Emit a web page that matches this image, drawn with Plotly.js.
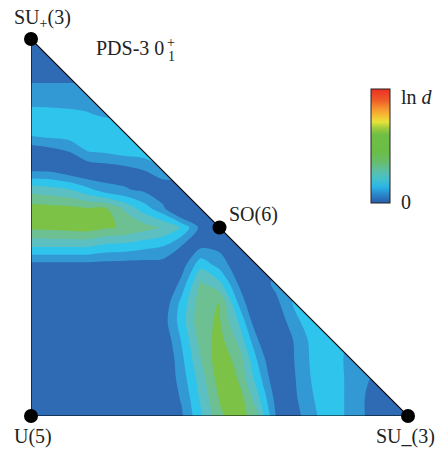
<!DOCTYPE html>
<html><head><meta charset="utf-8">
<script src="https://cdn.plot.ly/plotly-3.0.1.min.js"></script>
<style>html,body{margin:0;padding:0;background:#fff}#chart{width:443px;height:453px}</style>
</head><body><div id="chart"></div>
<script>
// grid coordinates (fraction along U(5)->SU_(3) and U(5)->SU+(3))
const gridX = [0,0.05,0.1,0.15,0.2,0.25,0.3,0.35,0.4,0.45,0.5,0.55,0.6,0.65,0.7,0.75,0.8,0.85,0.9,0.95,1];
const gridY = [0,0.05,0.1,0.15,0.2,0.25,0.3,0.35,0.4,0.45,0.5,0.55,0.6,0.65,0.7,0.75,0.8,0.85,0.9,0.95,1];
// ln d, in contour-level units (row = gridY, column = gridX)
const lnD = [
 [0,0,0,0,0,0,0,0,0.4,2.3,4.25,5.2,3.7,0.45,0.1,1.3,2.3,1.0,0.3,0.05,0],
 [0,0,0,0,0,0,0,-0.2,0.6,2.7,4.6,5.1,2.8,0.1,0.35,1.5,2.3,1.0,0.3,0.1,0.05],
 [0,0,0,0,0,0,0,-0.6,1.0,3.0,5.0,4.45,2.04,-0.4,0.45,1.7,2.3,1.0,0.5,0.3,0.2],
 [0,0,0,0,0,0,0,-0.7,1.27,3.45,5.2,4.1,1.45,-0.8,0.55,1.8,2.3,0.9,0.6,0.5,0.4],
 [0,0,0,0,0,0,0,-0.4,1.6,3.9,4.9,3.3,0.6,-0.5,0.6,1.9,2.2,1.2,1.0,1.0,1.0],
 [0,0,0,0,0,0,0,0,2.0,4.3,4.6,2.5,-0.36,-0.35,1.2,2.2,2.0,1.5,1.5,1.5,1.5],
 [0,0,0,0,0,0,0,-0.3,1.85,4.1,4.55,1.4,-1.0,0.2,1.7,1.8,1.8,1.8,1.8,1.8,1.8],
 [0,0,0,0,0,0,0,-1.0,0.9,3.7,2.8,0.45,-0.3,0.8,1.5,1.5,1.5,1.5,1.5,1.5,1.5],
 [0.1,0.1,0.1,0.1,0.05,0,0,0,0,2.2,1.15,-0.2,0,0.3,0.3,0.3,0.3,0.3,0.3,0.3,0.3],
 [2.6,2.6,2.6,2.6,2.2,2.1,1.8,1.5,0.45,0.3,0.2,0,0,0,0,0,0,0,0,0,0],
 [4.7,4.8,4.9,5.0,4.6,4.4,3.9,3.4,2.4,0.2,0,0,0,0,0,0,0,0,0,0,0],
 [5.0,4.9,4.8,4.6,4.55,3.3,2.0,0.8,-1.5,0,0,0,0,0,0,0,0,0,0,0,0],
 [3.1,2.9,2.6,1.8,0.9,0.6,0.3,-0.5,0,0,0,0,0,0,0,0,0,0,0,0,0],
 [0.45,0.4,-0.1,-0.5,-0.2,0.0,0.45,1.3,1.0,1.0,1.0,1.0,1.0,1.0,1.0,1.0,1.0,1.0,1.0,1.0,1.0],
 [-0.3,0,0.45,1.45,1.6,1.9,2.0,2.0,2.0,2.0,2.0,2.0,2.0,2.0,2.0,2.0,2.0,2.0,2.0,2.0,2.0],
 [1.8,2.0,2.1,2.45,2.52,2.3,2.2,2.2,2.2,2.2,2.2,2.2,2.2,2.2,2.2,2.2,2.2,2.2,2.2,2.2,2.2],
 [1.9,1.85,1.75,1.6,1.3,1.2,1.2,1.2,1.2,1.2,1.2,1.2,1.2,1.2,1.2,1.2,1.2,1.2,1.2,1.2,1.2],
 [0.9,0.9,0.9,0.85,0.8,0.8,0.8,0.8,0.8,0.8,0.8,0.8,0.8,0.8,0.8,0.8,0.8,0.8,0.8,0.8,0.8],
 [0.3,0.3,0.3,0.3,0.3,0.3,0.3,0.3,0.3,0.3,0.3,0.3,0.3,0.3,0.3,0.3,0.3,0.3,0.3,0.3,0.3],
 [0.1,0.1,0.1,0.1,0.1,0.1,0.1,0.1,0.1,0.1,0.1,0.1,0.1,0.1,0.1,0.1,0.1,0.1,0.1,0.1,0.1],
 [0,0,0,0,0,0,0,0,0,0,0,0,0,0,0,0,0,0,0,0,0]
];
// vertices and labelled points
const cornerNames = ['SU<sub>+</sub>(3)','U(5)','SU_(3)','SO(6)'];
const cornerX = [0,0,1,0.5];
const cornerY = [1,0,0,0.5];
// band colours (level 0 .. 6)
const bandColors = ['#2e6bb4','#3399d4','#2ec4ec','#5cc0c2','#6cc092','#7bc246','#86c53e'];
// colour bar gradient (0 -> ln d)
const barStops = [0,0.07,0.14,0.2,0.28,0.36,0.45,0.6,0.66,0.71,0.76,0.83,0.9,1];
const barColors = ['#2b5ca9','#2a84c8','#2bb3e6','#40bfd0','#5cbfa6','#67bd6a','#6bbd47','#70bf45','#a3cd3c','#e4e43b','#f6c136','#f5932f','#ef5c28','#ed2f25'];
const barLabels = ['ln <i>d</i>','0'];

const W=443,H=453,L=31,R=35,T=39,B=37;
const PW=W-L-R, PH=H-T-B;
const px2x = p => (p-L)/PW;
const py2y = p => (H-B-p)/PH;

const bandScale = bandColors.map((c,i)=>[i/(bandColors.length-1),c]);
const barScale = barStops.map((s,i)=>[s,barColors[i]]);

const traces = [
 {type:'contour', x:gridX, y:gridY, z:lnD, autocontour:false,
  contours:{start:0.5,end:5.5,size:1,coloring:'fill',showlines:false},
  line:{width:0,smoothing:0.85,color:'rgba(0,0,0,0)'},
  colorscale:bandScale, showscale:false, hoverinfo:'skip'},
 {type:'scatter', x:[cornerX[0],1,cornerX[2],cornerX[0]], y:[cornerY[0],1,cornerY[2],cornerY[0]],
  mode:'lines', fill:'toself', fillcolor:'#ffffff', line:{width:0,color:'#ffffff'}, hoverinfo:'skip', showlegend:false},
 {type:'scatter', x:[cornerX[0],cornerX[1],cornerX[2],cornerX[0]], y:[cornerY[0],cornerY[1],cornerY[2],cornerY[0]],
  mode:'lines', line:{width:1.2,color:'#000'}, hoverinfo:'skip', showlegend:false, cliponaxis:false},
 {type:'scatter', x:cornerX, y:cornerY, mode:'markers', marker:{size:14,color:'#000'},
  cliponaxis:false, hoverinfo:'skip', showlegend:false},
 {type:'scatter', x:[0.9], y:[0.9], mode:'markers', hoverinfo:'skip', showlegend:false,
  marker:{size:1,opacity:0,color:[0],cmin:0,cmax:1,colorscale:barScale,showscale:true,
   colorbar:{x:px2x(371),xanchor:'left',xref:'paper',y:py2y(146),yanchor:'middle',yref:'paper',
    len:114/PH,lenmode:'fraction',thickness:19,thicknessmode:'pixels',xpad:0,ypad:0,
    outlinewidth:1,outlinecolor:'#222',borderwidth:0,ticks:'',showticklabels:false}}}
];

const font = {family:'"Liberation Serif","Times New Roman",serif', size:20, color:'#222'};
const ann = (text,px,py,xa,extra) => Object.assign({text, x:px2x(px), y:py2y(py), xref:'paper', yref:'paper',
  xanchor:xa, yanchor:'middle', showarrow:false, font:font}, extra||{});
const annotations = [
 ann(cornerNames[0],42,19,'center'),
 ann(cornerNames[1],33,436,'center'),
 ann(cornerNames[2],405,436,'center'),
 ann(cornerNames[3],227,214,'left'),
 ann('PDS-3 0',94,48,'left'),
 ann('+',171,43,'center',{font:Object.assign({},font,{size:14})}),
 ann('1',171,56,'center',{font:Object.assign({},font,{size:14})}),
 ann(barLabels[0],399,97,'left'),
 ann(barLabels[1],399,202,'left')
];

const ax = {range:[0,1], showgrid:false, zeroline:false, showticklabels:false, ticks:'', showline:false, fixedrange:true};
const layout = {width:W, height:H, margin:{l:L,r:R,t:T,b:B,pad:0},
  paper_bgcolor:'#fff', plot_bgcolor:'#fff', showlegend:false,
  xaxis:Object.assign({},ax), yaxis:Object.assign({},ax), annotations};
Plotly.newPlot('chart', traces, layout, {staticPlot:true, displayModeBar:false});
</script></body></html>
